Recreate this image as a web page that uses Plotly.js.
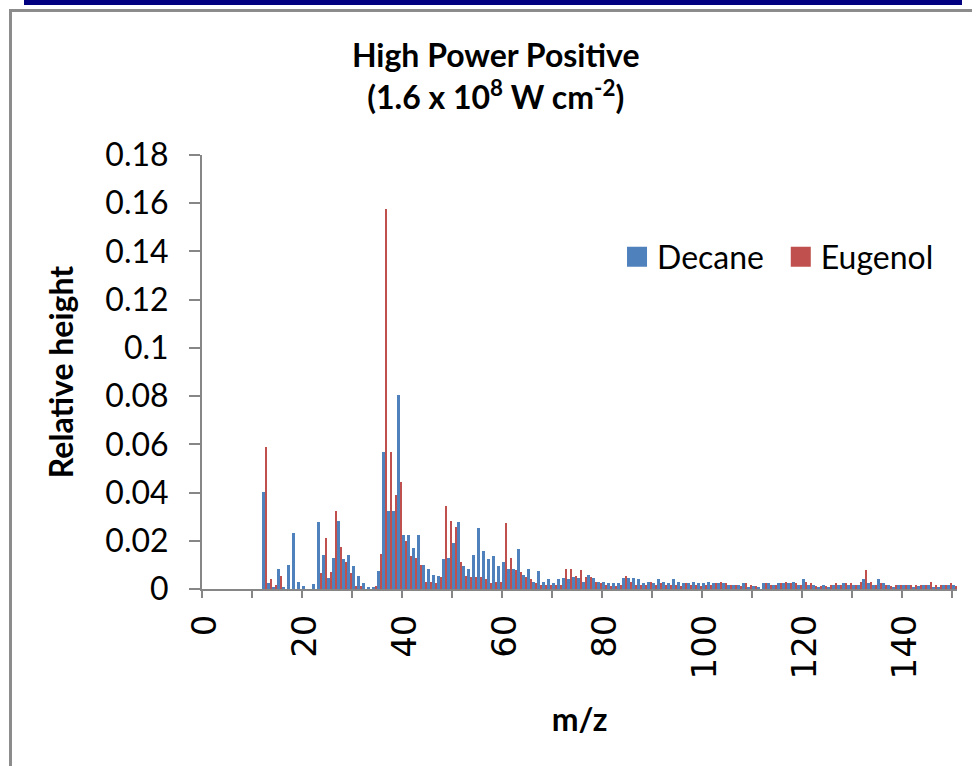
<!DOCTYPE html>
<html>
<head>
<meta charset="utf-8">
<script src="https://cdn.plot.ly/plotly-3.0.1.min.js"></script>
<style>
  html, body { margin: 0; padding: 0; background: #ffffff; }
  #wrap { position: relative; width: 972px; height: 766px; overflow: hidden; }
  #chart { position: absolute; left: 0; top: 0; width: 972px; height: 766px; }
  #navy { position: absolute; left: 24px; top: 0; width: 938px; height: 5px; background: #000080; }
  #frame { position: absolute; left: 9px; top: 9px; width: 980px; height: 800px;
           border-left: 3px solid #8c8c8c; border-top: 3px solid #8c8c8c; pointer-events: none; }
</style>
</head>
<body>
<div id="wrap">
  <div id="chart"></div>
  <div id="navy"></div>
  <div id="frame"></div>
</div>
<script>
// m/z categories
const mz = [0,1,2,3,4,5,6,7,8,9,10,11,12,13,14,15,16,17,18,19,20,21,22,23,24,25,26,27,28,29,
  30,31,32,33,34,35,36,37,38,39,40,41,42,43,44,45,46,47,48,49,50,51,52,53,54,55,56,57,58,59,
  60,61,62,63,64,65,66,67,68,69,70,71,72,73,74,75,76,77,78,79,80,81,82,83,84,85,86,87,88,89,
  90,91,92,93,94,95,96,97,98,99,100,101,102,103,104,105,106,107,108,109,110,111,112,113,114,115,116,117,118,119,
  120,121,122,123,124,125,126,127,128,129,130,131,132,133,134,135,136,137,138,139,140,141,142,143,144,145,146,147,148,149,150];

// Decane relative heights (m/z 0..150)
const decane = [0,0,0,0,0,0,0,0,0,0,0,0,
  0.0404,0.0026,0.0010,0.0084,0.0010,0.0098,0.0233,0.0030,0.0011,0,0.0019,0.0279,0.0142,0.0047,0.0130,0.0283,0.0126,0.0142,
  0.0097,0.0055,0.0026,0.0010,0.0010,0.0076,0.0569,0.0324,0.0324,0.0805,0.0225,0.0225,0.0171,0.0225,0.0101,0.0084,0.0059,0.0055,0.0126,0.0130,
  0.0192,0.0279,0.0097,0.0084,0.0142,0.0254,0.0159,0.0126,0.0138,0.0097,0.0113,0.0084,0.0084,0.0167,0.0059,0.0084,0.0030,0.0076,0.0030,0.0043,
  0.0026,0.0043,0.0047,0.0043,0.0051,0.0047,0.0030,0.0059,0.0047,0.0030,0.0030,0.0026,0.0026,0.0026,0.0047,0.0047,0.0047,0.0043,0.0026,0.0030,
  0.0026,0.0043,0.0030,0.0026,0.0043,0.0030,0.0026,0.0026,0.0030,0.0026,0.0026,0.0030,0.0026,0.0026,0.0026,0.0018,0.0018,0.0018,0.0026,0.0010,
  0.0014,0.0007,0.0026,0.0026,0.0018,0.0026,0.0026,0.0026,0.0030,0.0018,0.0043,0.0018,0.0018,0.0010,0.0018,0.0010,0.0018,0.0018,0.0026,0.0018,
  0.0018,0.0018,0.0043,0.0026,0.0018,0.0043,0.0026,0.0018,0.0010,0.0018,0.0018,0.0018,0.0010,0.0014,0.0018,0.0018,0.0010,0.0010,0.0018,0.0018,0.0018];

// Eugenol relative heights (m/z 0..150)
const eugenol = [0,0,0,0,0,0,0,0,0,0,0,0,
  0.0591,0.0043,0.0015,0.0056,0,0,0,0,0,0,0,0.0068,0.0213,0.0072,0.0324,0.0175,0.0113,0.0068,
  0.0014,0.0014,0,0,0.0014,0.0146,0.1576,0.0569,0.0391,0.0445,0.0200,0.0138,0.0130,0.0101,0.0030,0.0030,0.0026,0.0051,0.0345,0.0283,
  0.0258,0.0113,0.0055,0.0051,0.0051,0.0051,0.0043,0.0026,0.0030,0.0030,0.0275,0.0130,0.0080,0.0072,0.0051,0.0043,0.0026,0.0018,0.0018,0.0018,
  0.0018,0.0018,0.0084,0.0084,0.0055,0.0080,0.0051,0.0051,0.0030,0.0026,0.0018,0.0014,0.0014,0.0018,0.0055,0.0030,0.0018,0.0018,0.0018,0.0030,
  0.0018,0.0026,0.0018,0.0018,0.0018,0.0014,0.0026,0.0018,0.0018,0.0014,0.0018,0.0018,0.0026,0.0030,0.0026,0.0018,0.0018,0.0014,0.0026,0.0018,
  0.0014,0,0.0026,0.0018,0.0018,0.0026,0.0030,0.0026,0.0026,0.0018,0.0030,0.0026,0.0014,0.0014,0.0014,0.0018,0.0026,0.0018,0.0026,0.0026,
  0.0018,0.0030,0.0080,0.0030,0.0018,0.0026,0.0018,0.0014,0.0018,0.0018,0.0018,0.0018,0.0018,0.0018,0.0018,0.0030,0.0018,0.0018,0.0018,0.0026,0.0014];

const xLabelVals = [0,20,40,60,80,100,120,140];
const xLabelText = ['0','20','40','60','80','100','120','140'];
const xTickMarks = [-0.5,9.5,19.5,29.5,39.5,49.5,59.5,69.5,79.5,89.5,99.5,109.5,119.5,129.5,139.5,149.5];
const yTickVals = [0,0.02,0.04,0.06,0.08,0.1,0.12,0.14,0.16,0.18];
const yTickText = ['0','0.02','0.04','0.06','0.08','0.1','0.12','0.14','0.16','0.18'];

const traces = [
  { type: 'bar', name: 'Decane', x: mz, y: decane, legend: 'legend',
    marker: { color: '#4F81BD', line: { width: 0 } } },
  { type: 'bar', name: 'Eugenol', x: mz, y: eugenol, legend: 'legend2',
    marker: { color: '#C0504D', line: { width: 0 } } }
];

const legendFont = { family: 'Lato', size: 32, color: '#000000' };
const boldFont = { family: 'Lato', size: 32, color: '#000000', weight: 'bold' };

const layout = {
  width: 972, height: 766,
  margin: { l: 202, r: 15, t: 155, b: 177 },
  paper_bgcolor: '#ffffff', plot_bgcolor: '#ffffff',
  barmode: 'group', bargap: 0, bargroupgap: 0,
  showlegend: true,
  title: {
    text: 'High Power Positive<br>(1.6 x 10<sup>8</sup> W cm<sup>-2</sup>)',
    font: boldFont,
    xref: 'container', x: 0.51, xanchor: 'center',
    yref: 'container', y: 0.912, yanchor: 'top'
  },
  legend: {
    orientation: 'h', x: 0.5497, xanchor: 'left', y: 0.765, yanchor: 'middle',
    font: legendFont, bgcolor: 'rgba(0,0,0,0)', itemclick: false
  },
  legend2: {
    orientation: 'h', x: 0.7666, xanchor: 'left', y: 0.765, yanchor: 'middle',
    font: legendFont, bgcolor: 'rgba(0,0,0,0)', itemclick: false
  },
  xaxis: {
    range: [-0.5, 150.5], fixedrange: true,
    tickmode: 'array', tickvals: xLabelVals, ticktext: xLabelText,
    ticks: '', tickangle: -90, ticklabelstandoff: 10,
    tickfont: { family: 'DejaVu Sans', size: 34, color: '#000000' },
    minor: { tickmode: 'array', tickvals: xTickMarks, ticks: 'outside', ticklen: 7, tickwidth: 2, tickcolor: '#868686', showgrid: false },
    showline: true, linecolor: '#868686', linewidth: 2,
    showgrid: false, zeroline: false,
    title: { text: 'm/z', font: boldFont, standoff: 30 }
  },
  yaxis: {
    range: [0, 0.18], fixedrange: true,
    tickmode: 'array', tickvals: yTickVals, ticktext: yTickText,
    ticks: 'outside', ticklen: 11, tickwidth: 2, tickcolor: '#868686', ticklabelstandoff: 14,
    tickfont: { family: 'Lato', size: 32, color: '#000000' },
    showline: true, linecolor: '#868686', linewidth: 2,
    showgrid: false, zeroline: false,
    title: { text: 'Relative height', font: boldFont, standoff: 22 }
  }
};

Plotly.newPlot('chart', traces, layout, { displayModeBar: false, staticPlot: true }).then(function () {
  // enlarge legend swatches to the reference's 20px squares
  document.querySelectorAll('#chart .legendpoints path').forEach(function (p) {
    p.setAttribute('d', 'M10,10H-10V-10H10Z');
  });
});
</script>
</body>
</html>
